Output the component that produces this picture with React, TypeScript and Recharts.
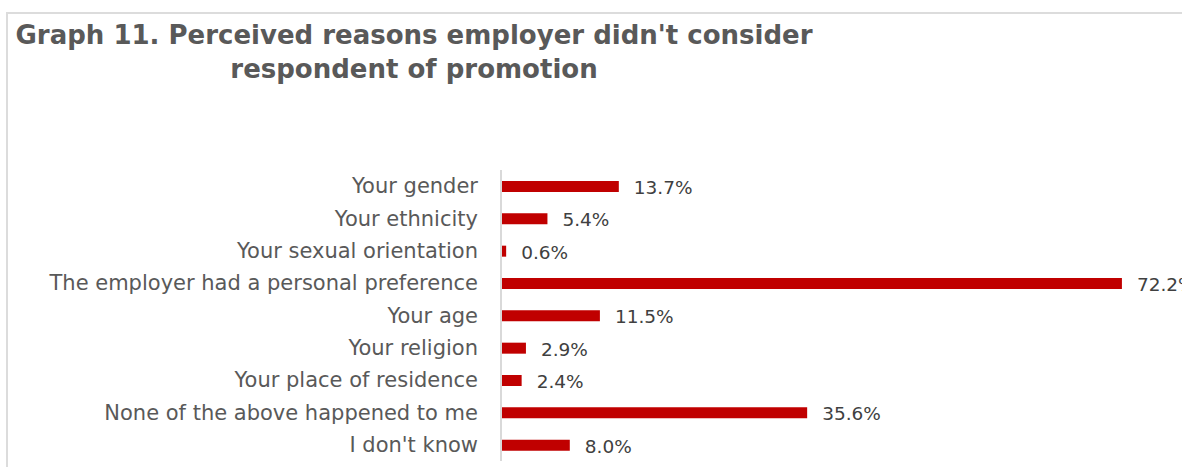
import React from 'react';
import { BarChart, Bar, XAxis, YAxis, LabelList } from 'recharts';

const categories = [
  'Your gender',
  'Your ethnicity',
  'Your sexual orientation',
  'The employer had a personal preference',
  'Your age',
  'Your religion',
  'Your place of residence',
  'None of the above happened to me',
  "I don't know",
];
const values = [13.7, 5.4, 0.6, 72.2, 11.5, 2.9, 2.4, 35.6, 8.0];
const titleLines = ["Graph 11. Perceived reasons employer didn't consider", 'respondent of promotion'];

const data = categories.map((name, i) => ({ name, value: values[i] }));

const FONT = '"DejaVu Sans", Verdana, sans-serif';

const CategoryTick = (props: any) => {
  const { x, y, payload } = props;
  return (
    <text x={x - 23} y={y} dy={7} textAnchor="end" fontSize={21} fill="#595959" fontFamily={FONT}>
      {payload.value}
    </text>
  );
};

const ValueLabel = (props: any) => {
  const { x, y, width, height, value } = props;
  return (
    <text x={x + width + 15} y={y + height / 2} dy={7.5} textAnchor="start" fontSize={18.5} fill="#404040" fontFamily={FONT}>
      {Number(value).toFixed(1)}%
    </text>
  );
};

export default function App() {
  return (
    <div style={{ position: 'fixed', left: 0, top: 0, width: 1182, height: 467, overflow: 'hidden', background: '#fff' }}>
      <div
        style={{
          position: 'absolute',
          left: 6,
          top: 12,
          width: 1300,
          height: 600,
          borderTop: '2px solid #dcdcdc',
          borderLeft: '2px solid #dcdcdc',
        }}
      />
      <svg style={{ position: 'absolute', left: 0, top: 0 }} width={1182} height={120}>
        <text x={414} y={44} textAnchor="middle" fontSize={26} fontWeight="bold" fill="#595959" fontFamily={FONT}>
          {titleLines[0]}
        </text>
        <text x={414} y={78} textAnchor="middle" fontSize={26} fontWeight="bold" fill="#595959" fontFamily={FONT}>
          {titleLines[1]}
        </text>
      </svg>
      <div style={{ position: 'absolute', left: 0, top: 0 }}>
        <BarChart
          width={1400}
          height={467}
          data={data}
          layout="vertical"
          margin={{ top: 170, right: 211, bottom: 6, left: 0 }}
        >
          <XAxis type="number" domain={[0, 80]} hide />
          <YAxis
            type="category"
            dataKey="name"
            width={501}
            tickLine={false}
            tickSize={0}
            tickMargin={0}
            axisLine={{ stroke: '#d9d9d9', strokeWidth: 2 }}
            tick={<CategoryTick />}
            interval={0}
          />
          <Bar dataKey="value" fill="#c00000" barSize={11} isAnimationActive={false}>
            <LabelList dataKey="value" content={<ValueLabel />} />
          </Bar>
        </BarChart>
      </div>
    </div>
  );
}
